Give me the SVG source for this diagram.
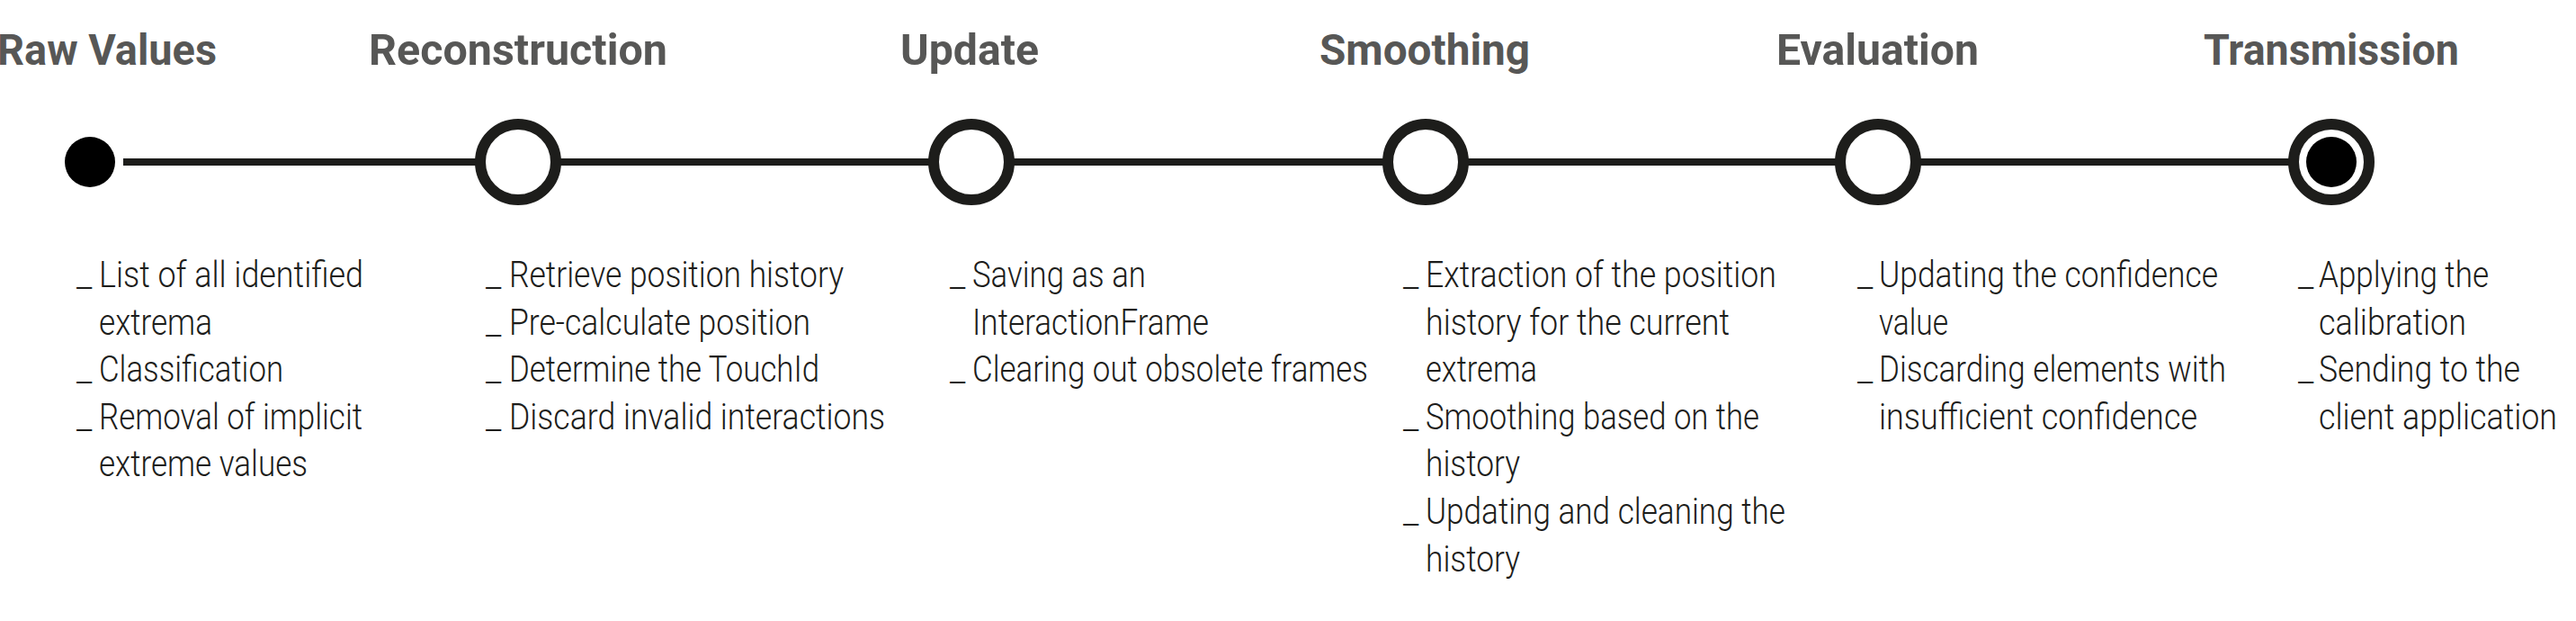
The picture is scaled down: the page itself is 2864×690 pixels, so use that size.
<svg xmlns="http://www.w3.org/2000/svg" width="2864" height="690" viewBox="0 0 2864 690">
<style>
.t{font-family:Roboto,"Liberation Sans",sans-serif;font-weight:700;font-size:48px;fill:#575756}
.b{font-family:Roboto,"Liberation Sans",sans-serif;font-weight:300;font-size:40px;fill:#1d1d1b}
.ring{fill:#ffffff;stroke:#1d1d1b;stroke-width:12}
.dot{fill:#000000}
</style>
<rect width="2864" height="690" fill="#ffffff"/>
<g id="connectors">
<line x1="137" y1="180" x2="2592" y2="180" stroke="#1d1d1b" stroke-width="8"/>
</g>
<g id="raw-values">
<circle class="dot" cx="100" cy="180" r="28"/>
<text class="t" x="-3" y="72" textLength="244" lengthAdjust="spacingAndGlyphs">Raw Values</text>
<text class="b" x="85" y="319">_</text>
<text class="b" x="110" y="319" textLength="294" lengthAdjust="spacingAndGlyphs">List of all identified</text>
<text class="b" x="110" y="371.6" textLength="126" lengthAdjust="spacingAndGlyphs">extrema</text>
<text class="b" x="85" y="424.2">_</text>
<text class="b" x="110" y="424.2" textLength="205" lengthAdjust="spacingAndGlyphs">Classification</text>
<text class="b" x="85" y="476.8">_</text>
<text class="b" x="110" y="476.8" textLength="293" lengthAdjust="spacingAndGlyphs">Removal of implicit</text>
<text class="b" x="110" y="529.4" textLength="232" lengthAdjust="spacingAndGlyphs">extreme values</text>
</g>
<g id="reconstruction">
<circle class="ring" cx="576" cy="180" r="42"/>
<text class="t" x="410" y="72" textLength="332" lengthAdjust="spacingAndGlyphs">Reconstruction</text>
<text class="b" x="540" y="319">_</text>
<text class="b" x="566" y="319" textLength="372" lengthAdjust="spacingAndGlyphs">Retrieve position history</text>
<text class="b" x="540" y="371.6">_</text>
<text class="b" x="566" y="371.6" textLength="335" lengthAdjust="spacingAndGlyphs">Pre-calculate position</text>
<text class="b" x="540" y="424.2">_</text>
<text class="b" x="566" y="424.2" textLength="345" lengthAdjust="spacingAndGlyphs">Determine the TouchId</text>
<text class="b" x="540" y="476.8">_</text>
<text class="b" x="566" y="476.8" textLength="418" lengthAdjust="spacingAndGlyphs">Discard invalid interactions</text>
</g>
<g id="update">
<circle class="ring" cx="1080" cy="180" r="42"/>
<text class="t" x="1001" y="72" textLength="154" lengthAdjust="spacingAndGlyphs">Update</text>
<text class="b" x="1056" y="319">_</text>
<text class="b" x="1081" y="319" textLength="193" lengthAdjust="spacingAndGlyphs">Saving as an</text>
<text class="b" x="1081" y="371.6" textLength="263" lengthAdjust="spacingAndGlyphs">InteractionFrame</text>
<text class="b" x="1056" y="424.2">_</text>
<text class="b" x="1081" y="424.2" textLength="440" lengthAdjust="spacingAndGlyphs">Clearing out obsolete frames</text>
</g>
<g id="smoothing">
<circle class="ring" cx="1585" cy="180" r="42"/>
<text class="t" x="1467" y="72" textLength="234" lengthAdjust="spacingAndGlyphs">Smoothing</text>
<text class="b" x="1560" y="319">_</text>
<text class="b" x="1585" y="319" textLength="390" lengthAdjust="spacingAndGlyphs">Extraction of the position</text>
<text class="b" x="1585" y="371.6" textLength="338" lengthAdjust="spacingAndGlyphs">history for the current</text>
<text class="b" x="1585" y="424.2" textLength="124" lengthAdjust="spacingAndGlyphs">extrema</text>
<text class="b" x="1560" y="476.8">_</text>
<text class="b" x="1585" y="476.8" textLength="371" lengthAdjust="spacingAndGlyphs">Smoothing based on the</text>
<text class="b" x="1585" y="529.4" textLength="105" lengthAdjust="spacingAndGlyphs">history</text>
<text class="b" x="1560" y="582">_</text>
<text class="b" x="1585" y="582" textLength="400" lengthAdjust="spacingAndGlyphs">Updating and cleaning the</text>
<text class="b" x="1585" y="634.6" textLength="105" lengthAdjust="spacingAndGlyphs">history</text>
</g>
<g id="evaluation">
<circle class="ring" cx="2088" cy="180" r="42"/>
<text class="t" x="1975" y="72" textLength="225" lengthAdjust="spacingAndGlyphs">Evaluation</text>
<text class="b" x="2065" y="319">_</text>
<text class="b" x="2089" y="319" textLength="377" lengthAdjust="spacingAndGlyphs">Updating the confidence</text>
<text class="b" x="2089" y="371.6" textLength="77" lengthAdjust="spacingAndGlyphs">value</text>
<text class="b" x="2065" y="424.2">_</text>
<text class="b" x="2089" y="424.2" textLength="386" lengthAdjust="spacingAndGlyphs">Discarding elements with</text>
<text class="b" x="2089" y="476.8" textLength="354" lengthAdjust="spacingAndGlyphs">insufficient confidence</text>
</g>
<g id="transmission">
<circle class="ring" cx="2592" cy="180" r="42"/>
<circle class="dot" cx="2592" cy="180" r="28"/>
<text class="t" x="2450" y="72" textLength="284" lengthAdjust="spacingAndGlyphs">Transmission</text>
<text class="b" x="2555" y="319">_</text>
<text class="b" x="2578" y="319" textLength="189" lengthAdjust="spacingAndGlyphs">Applying the</text>
<text class="b" x="2578" y="371.6" textLength="164" lengthAdjust="spacingAndGlyphs">calibration</text>
<text class="b" x="2555" y="424.2">_</text>
<text class="b" x="2578" y="424.2" textLength="224" lengthAdjust="spacingAndGlyphs">Sending to the</text>
<text class="b" x="2578" y="476.8" textLength="265" lengthAdjust="spacingAndGlyphs">client application</text>
</g>
</svg>
